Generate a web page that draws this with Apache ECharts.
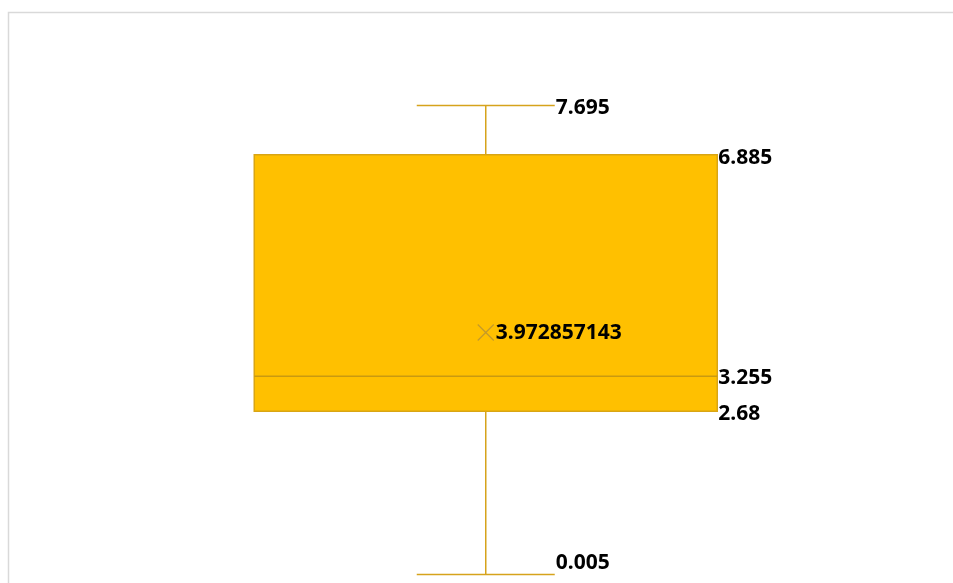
<!DOCTYPE html>
<html>
<head>
<meta charset="utf-8">
<script src="https://cdn.jsdelivr.net/npm/echarts@6/dist/echarts.min.js"></script>
<style>html,body{margin:0;padding:0;background:#fff}#c{width:953px;height:583px}</style>
</head>
<body>
<div id="c"></div>
<script>
var categories = ['Series 1'];
var minValues = [0.005];
var q1Values = [2.68];
var medianValues = [3.255];
var q3Values = [6.885];
var maxValues = [7.695];
var meanValues = [3.972857143];
var meanLabels = ['3.972857143'];

var data = categories.map(function (c, i) {
  return [i, minValues[i], q1Values[i], medianValues[i], q3Values[i], maxValues[i], meanValues[i]];
});

var FONT = '"Noto Sans", "Open Sans", sans-serif';
var WH = '#D6A31C';
function lbl(x, y, t) {
  return { type: 'text', style: { x: x, y: y, text: t, fill: '#000', font: 'bold 21px ' + FONT, textAlign: 'left', textVerticalAlign: 'middle' } };
}

function renderItem(params, api) {
  var i = api.value(0);
  var pMin = api.coord([i, api.value(1)]);
  var pQ1 = api.coord([i, api.value(2)]);
  var pMed = api.coord([i, api.value(3)]);
  var pQ3 = api.coord([i, api.value(4)]);
  var pMax = api.coord([i, api.value(5)]);
  var pMean = api.coord([i, api.value(6)]);
  var cx = pMin[0];
  var boxW = 463, capW = 138, m = 8;
  var L = cx - boxW / 2, R = cx + boxW / 2;
  var lineStyle = { stroke: WH, lineWidth: 1.5 };
  return {
    type: 'group',
    children: [
      { type: 'line', shape: { x1: cx, y1: pMax[1], x2: cx, y2: pQ3[1] }, style: lineStyle },
      { type: 'line', shape: { x1: cx, y1: pQ1[1], x2: cx, y2: pMin[1] }, style: lineStyle },
      { type: 'line', shape: { x1: cx - capW / 2, y1: pMax[1], x2: cx + capW / 2, y2: pMax[1] }, style: lineStyle },
      { type: 'line', shape: { x1: cx - capW / 2, y1: pMin[1], x2: cx + capW / 2, y2: pMin[1] }, style: lineStyle },
      { type: 'rect', shape: { x: L, y: pQ3[1], width: boxW, height: pQ1[1] - pQ3[1] }, style: { fill: '#FFC000', stroke: '#D9A514', lineWidth: 1.5 } },
      { type: 'line', shape: { x1: L, y1: pMed[1], x2: R, y2: pMed[1] }, style: { stroke: '#C99A10', lineWidth: 1.5 } },
      { type: 'line', shape: { x1: pMean[0] - m, y1: pMean[1] - m, x2: pMean[0] + m, y2: pMean[1] + m }, style: { stroke: '#C49A2A', lineWidth: 1.2 } },
      { type: 'line', shape: { x1: pMean[0] - m, y1: pMean[1] + m, x2: pMean[0] + m, y2: pMean[1] - m }, style: { stroke: '#C49A2A', lineWidth: 1.2 } },
      lbl(cx + capW / 2 + 1, pMax[1] + 3, String(api.value(5))),
      lbl(R + 1, pQ3[1] + 3, String(api.value(4))),
      lbl(R + 1, pMed[1] + 2, String(api.value(3))),
      lbl(R + 1, pQ1[1] + 3, String(api.value(2))),
      lbl(cx + capW / 2 + 1, pMin[1] - 11, String(api.value(1))),
      lbl(pMean[0] + 10, pMean[1] + 1, meanLabels[params.dataIndex])
    ]
  };
}

var chart = echarts.init(document.getElementById('c'), null, { renderer: 'canvas' });
chart.setOption({
  animation: false,
  backgroundColor: '#fff',
  graphic: [{ type: 'rect', shape: { x: 8.5, y: 12.5, width: 1000, height: 700 }, style: { fill: 'none', stroke: '#D9D9D9', lineWidth: 1.5 }, z: -1 }],
  grid: { left: 20, right: 1.5, top: 25.8, bottom: 8.2 },
  xAxis: { type: 'category', data: categories, show: false },
  yAxis: { type: 'value', min: 0, max: 9, show: false },
  series: [{ type: 'custom', renderItem: renderItem, data: data, clip: false }]
});
</script>
</body>
</html>
